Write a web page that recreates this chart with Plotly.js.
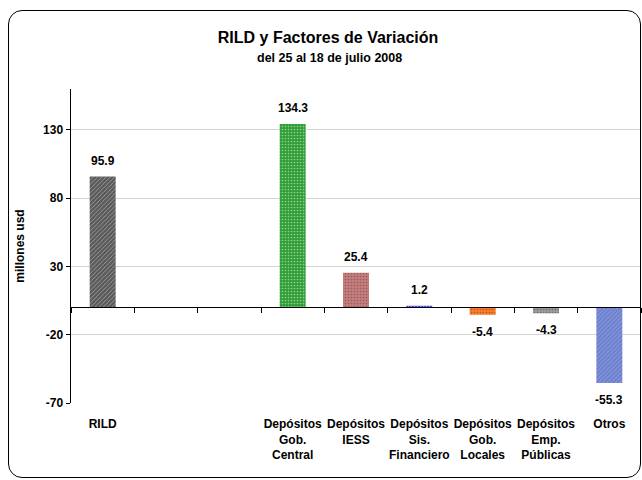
<!DOCTYPE html>
<html>
<head>
<meta charset="utf-8">
<script src="https://cdn.plot.ly/plotly-3.0.1.min.js"></script>
<style>
  html, body { margin: 0; padding: 0; background: #fff; }
  #wrap { position: relative; width: 642px; height: 480px; }
  #chart { width: 642px; height: 480px; }
  #frame { position: absolute; left: 8px; top: 10px; width: 631px; height: 466px;
           border: 1.5px solid #000; border-radius: 14px; pointer-events: none; }
</style>
</head>
<body>
<div id="wrap">
  <div id="chart"></div>
  <div id="frame"></div>
</div>
<script>
// ---- data ----
const categoryLabels = [
  "RILD", "", "",
  "Depósitos<br>Gob.<br>Central",
  "Depósitos<br>IESS",
  "Depósitos<br>Sis.<br>Financiero",
  "Depósitos<br>Gob.<br>Locales",
  "Depósitos<br>Emp.<br>Públicas",
  "Otros"
];
const values = [95.9, null, null, 134.3, 25.4, 1.2, -5.4, -4.3, -55.3];
const valueLabels = ["95.9", "", "", "134.3", "25.4", "1.2", "-5.4", "-4.3", "-55.3"];
const barColors = ["#5a5a5a", "#ffffff", "#ffffff", "#2e9e34", "#c97b7b", "#2a2ae0", "#ff7a26", "#9a9a9a", "#7b8fe0"];
const patternColors = ["#7c7c7c", "#ffffff", "#ffffff", "#4cb552", "#dc9c9c", "#5252f0", "#ff9c5c", "#b8b8b8", "#a0b0ee"];
const patternShapes = ["/", "", "", ".", ".", ".", ".", ".", "/"];
const yTicks = [-70, -20, 30, 80, 130];

const FONT = "'Liberation Sans Narrow', 'Arial Narrow', 'Liberation Sans', Arial, sans-serif";
const idx = categoryLabels.map((c, i) => i);

const barTrace = {
  type: "bar",
  x: idx,
  y: values,
  width: 0.41,
  marker: {
    color: barColors,
    line: { width: 0 },
    pattern: { shape: patternShapes, fgcolor: patternColors, fillmode: "overlay", size: 3, solidity: 0.25 }
  },
  hoverinfo: "skip",
  showlegend: false
};
// invisible helper trace to draw the category axis along zero
const zeroAxisTrace = {
  type: "scatter", mode: "none", x: idx, y: values, xaxis: "x2", yaxis: "y",
  hoverinfo: "skip", showlegend: false
};

const annotations = [];
values.forEach((v, i) => {
  if (v === null) return;
  annotations.push({
    x: idx[i], y: v, xref: "x", yref: "y",
    text: "<b>" + valueLabels[i] + "</b>",
    showarrow: false,
    yanchor: v >= 0 ? "bottom" : "top",
    yshift: v >= 0 ? 7 : -8,
    font: { family: FONT, size: 12, color: "#000" }
  });
});
annotations.push({
  xref: "paper", yref: "paper", x: 0.453, y: 1 + 31 / 314, xanchor: "center", yanchor: "middle",
  text: "<b>del 25 al 18 de julio 2008</b>", showarrow: false,
  font: { family: FONT, size: 12.5, color: "#000" }
});

const yMin = -70, yMax = 160;
const zeroPos = (0 - yMin) / (yMax - yMin);

const layout = {
  width: 642, height: 480,
  margin: { l: 71, r: 1, t: 89, b: 77 },
  paper_bgcolor: "rgba(0,0,0,0)",
  plot_bgcolor: "#ffffff",
  font: { family: FONT, color: "#000" },
  title: {
    text: "<b>RILD y Factores de Variación</b>",
    font: { family: FONT, size: 16, color: "#000" },
    xref: "container", x: 0.511, xanchor: "center",
    yref: "container", y: 1 - 37 / 480, yanchor: "middle"
  },
  bargap: 0.59,
  xaxis: {
    type: "linear",
    range: [-0.5, idx.length - 0.5],
    tickvals: idx,
    ticktext: categoryLabels.map(s => "<b>" + s + "</b>"),
    ticks: "",
    showline: false,
    showgrid: false,
    zeroline: false,
    ticklabelstandoff: 12,
    tickfont: { family: FONT, size: 12, color: "#000" },
    fixedrange: true
  },
  xaxis2: {
    type: "linear",
    overlaying: "x",
    anchor: "free",
    position: zeroPos,
    range: [-0.5, idx.length - 0.5],
    tick0: -0.5, dtick: 1,
    ticks: "outside", ticklen: 5, tickcolor: "#000", tickwidth: 1,
    showticklabels: false,
    showline: true, linecolor: "#000", linewidth: 1,
    showgrid: false, zeroline: false,
    fixedrange: true
  },
  yaxis: {
    range: [yMin, yMax],
    tickvals: yTicks,
    ticktext: yTicks.map(t => "<b>" + t + "</b>"),
    ticks: "outside", ticklen: 4, tickcolor: "#000",
    showline: true, linecolor: "#000", linewidth: 1.5,
    showgrid: true, gridcolor: "#d4d4d4", gridwidth: 1,
    zeroline: false,
    tickfont: { family: FONT, size: 12, color: "#000" },
    title: { text: "<b>millones usd</b>", font: { family: FONT, size: 12, color: "#000" }, standoff: 16 },
    automargin: false,
    fixedrange: true
  },
  annotations: annotations
};

Plotly.newPlot("chart", [barTrace, zeroAxisTrace], layout, { displayModeBar: false, staticPlot: true });
</script>
</body>
</html>
